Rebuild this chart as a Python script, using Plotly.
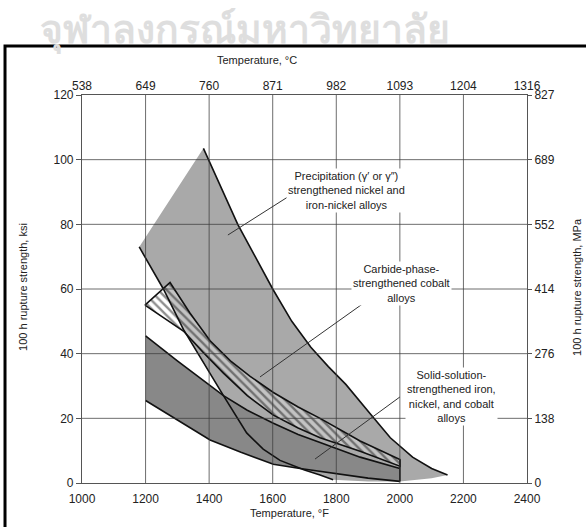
import plotly.graph_objects as go

# ---------------- data ----------------
temp_f_ticks = [1000, 1200, 1400, 1600, 1800, 2000, 2200, 2400]
temp_c_labels = ["538", "649", "760", "871", "982", "1093", "1204", "1316"]
ksi_ticks = [0, 20, 40, 60, 80, 100, 120]
mpa_labels = ["0", "138", "276", "414", "552", "689", "827"]

# Precipitation (gamma' / gamma'') strengthened Ni and Fe-Ni alloys
prec_upper_t = [1180, 1382, 1440, 1490, 1545, 1600, 1660, 1720, 1775, 1830, 1910, 1970, 2040, 2100, 2150]
prec_upper_s = [73, 103.5, 91, 80, 70, 60, 50, 42, 36, 30.5, 21, 14, 8, 4.5, 2.5]
prec_lower_t = [1180, 1256, 1319, 1380, 1445, 1518, 1570, 1623, 1700, 1749, 1790, 1900, 2000, 2100, 2150]
prec_lower_s = [73, 60, 47.5, 37.5, 27, 15.5, 10.5, 7, 4, 2.5, 1, 0.5, 0.5, 1.5, 2.5]

# Solid-solution strengthened Fe, Ni and Co alloys
ss_upper_t = [1200, 1300, 1445, 1520, 1602, 1680, 1749, 1875, 2000]
ss_upper_s = [45.5, 37.8, 27, 22.5, 18.5, 15, 12.5, 8, 4.5]
ss_lower_t = [1200, 1300, 1403, 1500, 1602, 1686, 1800, 1900, 2000]
ss_lower_s = [25.5, 19.5, 13.3, 9.5, 5.8, 4.5, 3, 1.5, 0.5]

# Carbide-phase strengthened cobalt alloys (hatched)
co_upper_t = [1198, 1277, 1340, 1403, 1470, 1529, 1602, 1680, 1749, 1875, 2000]
co_upper_s = [55, 62, 52.5, 44, 37.5, 33, 28, 23.5, 20, 13, 7.3]
co_lower_t = [1198, 1319, 1380, 1445, 1520, 1602, 1680, 1749, 1875, 2000]
co_lower_s = [55, 47, 40.5, 34, 27, 21, 17, 14, 9.8, 5.2]

labels = {
    "prec": "Precipitation (γ′ or γ″)<br>strengthened nickel and<br>iron-nickel alloys",
    "co": "Carbide-phase-<br>strengthened cobalt<br>alloys",
    "ss": "Solid-solution-<br>strengthened iron,<br>nickel, and cobalt<br>alloys",
}
watermark = "จุฬาลงกรณ์มหาวิทยาลัย"

# ---------------- figure ----------------
fig = go.Figure()
FONT = "Liberation Sans, Arial, sans-serif"
INK = "#111111"

def poly(ut, us, lt, ls):
    return ut + lt[::-1], us + ls[::-1]

# fills
x, y = poly(prec_upper_t, prec_upper_s, prec_lower_t, prec_lower_s)
fig.add_trace(go.Scatter(x=x, y=y, fill="toself", fillcolor="#a9a9a9",
                         line=dict(width=0), mode="lines", hoverinfo="skip", showlegend=False))
x, y = poly(ss_upper_t, ss_upper_s, ss_lower_t, ss_lower_s)
fig.add_trace(go.Scatter(x=x, y=y, fill="toself", fillcolor="#888888",
                         line=dict(width=0), mode="lines", hoverinfo="skip", showlegend=False))
x, y = poly(co_upper_t, co_upper_s, co_lower_t, co_lower_s)
fig.add_trace(go.Scatter(x=x, y=y, fill="toself", fillcolor="rgba(255,255,255,0.3)",
                         fillpattern=dict(shape="\\", fgcolor="#1e1e1e", bgcolor="rgba(255,255,255,0.3)",
                                          size=6, solidity=0.4),
                         line=dict(width=0), mode="lines", hoverinfo="skip", showlegend=False))

# outlines
def outline(xs, ys, w=1.6):
    fig.add_trace(go.Scatter(x=xs, y=ys, mode="lines", line=dict(color=INK, width=w),
                             hoverinfo="skip", showlegend=False))

outline(prec_upper_t[1:], prec_upper_s[1:])
k = prec_lower_t.index(1790)
outline(prec_lower_t[:k + 1], prec_lower_s[:k + 1])
outline(ss_upper_t, ss_upper_s)
outline(ss_lower_t, ss_lower_s)
outline([ss_lower_t[-1], co_upper_t[-1]], [ss_lower_s[-1], co_upper_s[-1]])
x, y = poly(co_upper_t, co_upper_s, co_lower_t, co_lower_s)
outline(x + [x[0]], y + [y[0]])

# grid lines drawn above the fills
shapes = []
for t in temp_f_ticks[1:-1]:
    shapes.append(dict(type="line", xref="x", yref="y", x0=t, x1=t, y0=ksi_ticks[0], y1=ksi_ticks[-1],
                       line=dict(color="rgba(60,60,60,0.75)", width=1), layer="above"))
for s in ksi_ticks[1:-1]:
    shapes.append(dict(type="line", xref="x", yref="y", x0=temp_f_ticks[0], x1=temp_f_ticks[-1], y0=s, y1=s,
                       line=dict(color="rgba(60,60,60,0.75)", width=1), layer="above"))
# leader lines
leaders = [((1648, 88.5), (1459, 76.7)), ((1900, 56.6), (1560, 32.8)), ((2000, 26.6), (1733, 7.4))]
for (a, b) in leaders:
    shapes.append(dict(type="line", xref="x", yref="y", x0=a[0], y0=a[1], x1=b[0], y1=b[1],
                       line=dict(color="#333333", width=1), layer="above"))
# outer frame
shapes.append(dict(type="rect", xref="paper", yref="paper", x0=-0.173, x1=1.16, y0=-0.15, y1=1.126,
                   line=dict(color="black", width=3), layer="below"))

def pann(x, y, text, size=11, angle=0, color="#222", family=FONT):
    return dict(x=x, y=y, xref="paper", yref="paper", text=text, showarrow=False,
                xanchor="center", yanchor="middle", textangle=angle,
                font=dict(size=size, color=color, family=family))

annotations = [
    dict(x=1831, y=90.6, xref="x", yref="y", text=labels["prec"], showarrow=False,
         xanchor="center", yanchor="middle",
         font=dict(size=11, color="#222", family=FONT), bgcolor="white", align="center"),
    dict(x=2004, y=61.6, xref="x", yref="y", text=labels["co"], showarrow=False,
         xanchor="center", yanchor="middle",
         font=dict(size=11, color="#222", family=FONT), bgcolor="white", align="center"),
    dict(x=2161, y=26.9, xref="x", yref="y", text=labels["ss"], showarrow=False,
         xanchor="center", yanchor="middle",
         font=dict(size=11, color="#222", family=FONT), bgcolor="white", align="center"),
    pann(0.366, 1.175, "<b>" + watermark + "</b>", size=39, color="#dedede",
         family="Noto Sans, DejaVu Sans, sans-serif"),
    pann(0.393, 1.090, "Temperature, °C"),
    pann(0.467, -0.077, "Temperature, °F"),
    pann(-0.133, 0.505, "100 h rupture strength, ksi", angle=-90),
    pann(1.112, 0.505, "100 h rupture strength, MPa", angle=-90),
]

axis_common = dict(showgrid=False, zeroline=False, tickfont=dict(size=12, color="#222", family=FONT))
fig.update_layout(
    width=586, height=527,
    margin=dict(l=82, r=59, t=95, b=44),
    paper_bgcolor="white", plot_bgcolor="white",
    shapes=shapes, annotations=annotations, showlegend=False,
    xaxis=dict(range=[temp_f_ticks[0], temp_f_ticks[-1]], tickvals=temp_f_ticks, ticks="",
               ticklabelstandoff=4,
               showline=True, linecolor="#555", linewidth=1.2, mirror=True, **axis_common),
    xaxis2=dict(range=[temp_f_ticks[0], temp_f_ticks[-1]], tickvals=temp_f_ticks, ticktext=temp_c_labels,
                overlaying="x", side="top", ticks="", ticklabelstandoff=2, showline=False, **axis_common),
    yaxis=dict(range=[ksi_ticks[0], ksi_ticks[-1]], tickvals=ksi_ticks, ticks="outside", ticklen=5,
               tickcolor="#555", showline=True, linecolor="#555", linewidth=1.2, mirror=True, **axis_common),
    yaxis2=dict(range=[ksi_ticks[0], ksi_ticks[-1]], tickvals=ksi_ticks, ticktext=mpa_labels,
                overlaying="y", side="right", ticks="outside", ticklen=4, tickcolor="#555",
                showline=False, **axis_common),
)
# invisible helper trace so the secondary axes are laid out
fig.add_trace(go.Scatter(x=[None], y=[None], xaxis="x2", yaxis="y2", showlegend=False, hoverinfo="skip"))

fig.write_html("out.html")
